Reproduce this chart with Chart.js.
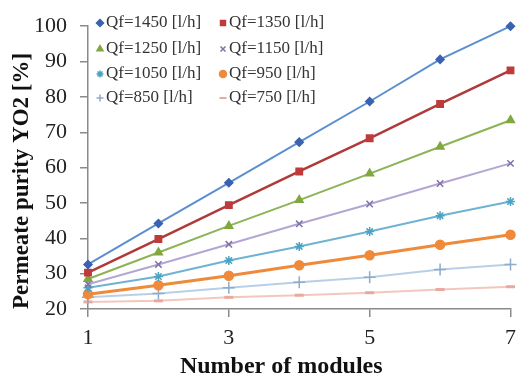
<!DOCTYPE html>
<html>
<head>
<meta charset="utf-8">
<script src="https://cdn.jsdelivr.net/npm/chart.js@4/dist/chart.umd.min.js"></script>
<style>
  body { margin: 0; background: #fff; }
  #wrap { width: 518px; height: 379px; }
</style>
</head>
<body>
<div id="wrap"><canvas id="purityChart" width="518" height="379"></canvas></div>
<script>
// Number of modules (x) and permeate purity YO2 [%] per feed flow
const modules = [1, 2, 3, 4, 5, 6, 7];
const flowLabels = ['Qf=1450 [l/h]', 'Qf=1350 [l/h]', 'Qf=1250 [l/h]', 'Qf=1150 [l/h]',
                    'Qf=1050 [l/h]', 'Qf=950 [l/h]', 'Qf=850 [l/h]', 'Qf=750 [l/h]'];
const qf1450 = [32.6, 44.2, 55.7, 67.2, 78.7, 90.6, 100];
const qf1350 = [30.3, 39.8, 49.4, 58.9, 68.3, 78.0, 87.5];
const qf1250 = [28.5, 36.0, 43.5, 50.8, 58.3, 65.9, 73.4];
const qf1150 = [27.0, 32.6, 38.3, 44.1, 49.7, 55.5, 61.2];
const qf1050 = [26.0, 29.2, 33.7, 37.7, 41.9, 46.4, 50.4];
const qf950  = [24.2, 26.7, 29.4, 32.4, 35.2, 38.2, 41.0];
const qf850  = [23.3, 24.4, 26.0, 27.6, 29.0, 31.2, 32.6];
const qf750  = [22.0, 22.3, 23.3, 23.9, 24.6, 25.5, 26.3];
const yTicks = [20, 30, 40, 50, 60, 70, 80, 90, 100];
const xTicks = [1, 3, 5, 7];

const series = [qf1450, qf1350, qf1250, qf1150, qf1050, qf950, qf850, qf750];
const styles = [
  { line: '#5b8fd0', mark: '#3a62b0', shape: 'rectRot',  r: 4,   w: 2 },
  { line: '#b03a3a', mark: '#bf3b3b', shape: 'rect',     r: 4.5, w: 2.5 },
  { line: '#8cb356', mark: '#80a83f', shape: 'triangle', r: 4.5, w: 2 },
  { line: '#b4a6d4', mark: '#7f71aa', shape: 'crossRot', r: 4.5, w: 2 },
  { line: '#6fb2d2', mark: '#4aa3c3', shape: 'star',     r: 4.5, w: 2 },
  { line: '#ef8a3a', mark: '#ef8a3a', shape: 'circle',   r: 4.5, w: 3 },
  { line: '#b9cfe7', mark: '#8eabc9', shape: 'cross',    r: 6,   w: 2 },
  { line: '#f3c7bd', mark: '#e8a9a0', shape: 'line',     r: 4.5, w: 2 }
];

const serif = "'Liberation Serif', 'Times New Roman', serif";

// legend drawn inside the plot, two columns
const insideLegend = {
  id: 'insideLegend',
  afterDraw(chart) {
    const ctx = chart.ctx;
    const rows = [23, 49, 74, 98];
    const cols = [100, 223];
    ctx.save();
    ctx.font = '17px ' + serif;
    ctx.textBaseline = 'middle';
    ctx.textAlign = 'left';
    flowLabels.forEach((lab, i) => {
      const x = cols[i % 2], y = rows[Math.floor(i / 2)];
      const st = styles[i];
      ctx.fillStyle = st.mark;
      ctx.strokeStyle = st.mark;
      ctx.lineWidth = st.shape === 'line' ? 2 : 1.5;
      Chart.helpers.drawPoint(ctx, { pointStyle: st.shape, rotation: 0, radius: 3.5, borderWidth: ctx.lineWidth }, x, y);
      ctx.fillStyle = '#333';
      ctx.fillText(lab, x + 6, y);
    });
    ctx.restore();
  }
};

new Chart(document.getElementById('purityChart'), {
  type: 'line',
  data: {
    datasets: series.map((vals, i) => ({
      label: flowLabels[i],
      data: vals.map((v, k) => ({ x: modules[k], y: v })),
      borderColor: styles[i].line,
      borderWidth: styles[i].w,
      backgroundColor: styles[i].mark,
      pointBackgroundColor: styles[i].mark,
      pointBorderColor: styles[i].mark,
      pointBorderWidth: styles[i].shape === 'line' ? 3 : 1.5,
      pointStyle: styles[i].shape,
      pointRadius: styles[i].r,
      tension: 0,
      clip: false
    }))
  },
  options: {
    responsive: false,
    animation: false,
    layout: { padding: { top: 20, right: 4, left: 0, bottom: 0 } },
    plugins: { legend: { display: false }, tooltip: { enabled: false } },
    scales: {
      x: {
        type: 'linear',
        min: 1,
        max: 7,
        afterFit: s => { s.height = 70; s.paddingRight = 0; },
        afterBuildTicks: s => { s.ticks = xTicks.map(v => ({ value: v })); },
        grid: { drawOnChartArea: false, tickLength: 8, color: '#8a8a8a', lineWidth: 1.5 },
        border: { color: '#8a8a8a', width: 1.5 },
        ticks: { font: { family: serif, size: 22 }, color: '#222', padding: 8 },
        title: {
          display: true,
          text: 'Number of modules\u00a0\u00a0\u00a0\u00a0\u00a0\u00a0',
          font: { family: serif, size: 24, weight: 'bold', lineHeight: 1 },
          color: '#111',
          padding: { top: 0, bottom: 0 }
        }
      },
      y: {
        min: 20,
        max: 100,
        afterFit: s => { s.width = 88; },
        afterBuildTicks: s => { s.ticks = yTicks.map(v => ({ value: v })); },
        grid: { drawOnChartArea: false, tickLength: 8, color: '#8a8a8a', lineWidth: 1.5 },
        border: { color: '#8a8a8a', width: 1.5 },
        ticks: { font: { family: serif, size: 22 }, color: '#222', padding: 13 },
        title: {
          display: true,
          text: 'Permeate purity YO2 [%]',
          align: 'start',
          font: { family: serif, size: 23, weight: 'bold' },
          color: '#111',
          padding: { top: 8, bottom: 0 }
        }
      }
    }
  },
  plugins: [insideLegend]
});
</script>
</body>
</html>
